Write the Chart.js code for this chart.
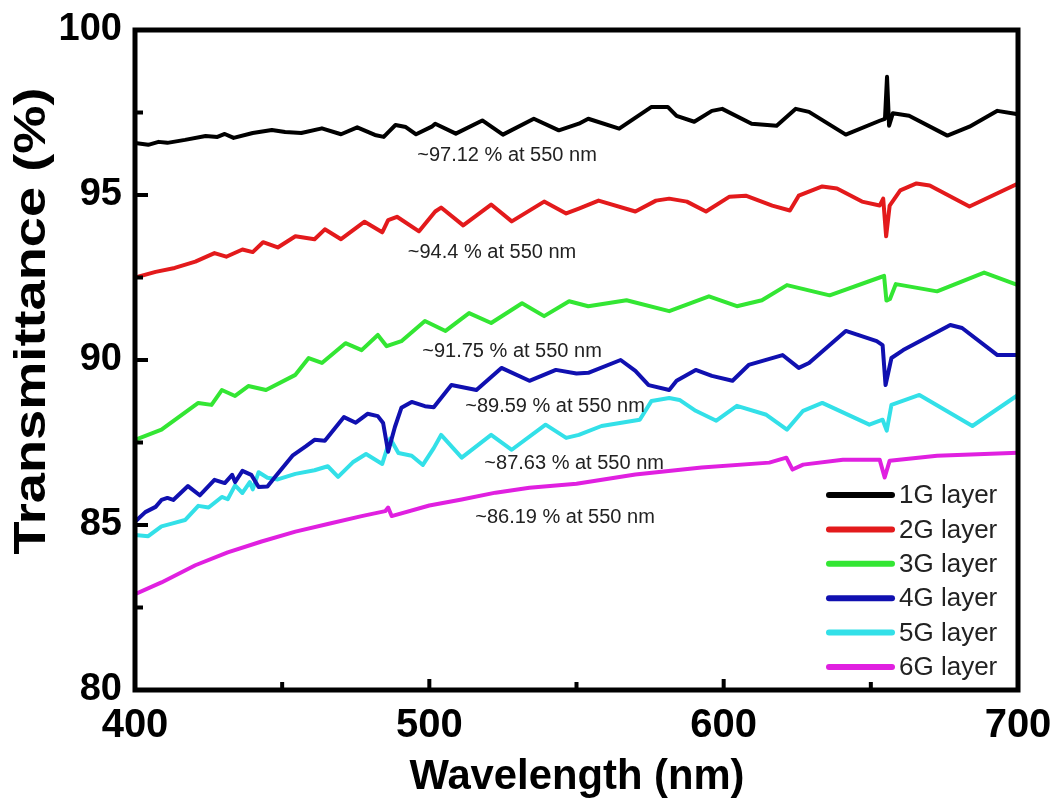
<!DOCTYPE html>
<html>
<head>
<meta charset="utf-8">
<script src="https://cdn.jsdelivr.net/npm/chart.js@4.4.0/dist/chart.umd.min.js"></script>
<style>
  html, body { margin: 0; padding: 0; background: #fff; }
  #wrap { width: 1055px; height: 805px; }
</style>
</head>
<body>
<div id="wrap"><canvas id="chart" width="1055" height="805"></canvas></div>
<script>
// Transmittance spectra (wavelength nm, transmittance %)
const layer1Wl = [400, 404.5, 408, 411, 417, 424, 428, 430.5, 433.5, 440, 446.5, 451, 456.5, 463.5, 470, 475.5, 481.5, 484.5, 486, 488.5, 492, 495.5, 501, 502, 509, 518, 525, 535.5, 544, 550.8, 554, 564.5, 575.5, 581, 584, 590, 596, 599.5, 609.5, 618, 624.5, 629, 641.5, 653, 654.8, 655.5, 656.2, 657.5, 663, 676, 683.5, 693, 699, 700];
const layer1T = [96.58, 96.52, 96.61, 96.58, 96.67, 96.79, 96.76, 96.85, 96.73, 96.88, 96.97, 96.91, 96.88, 97.02, 96.84, 97.05, 96.82, 96.76, 96.9, 97.12, 97.06, 96.84, 97.08, 97.16, 96.86, 97.26, 96.83, 97.31, 96.96, 97.16, 97.31, 97.01, 97.67, 97.67, 97.4, 97.22, 97.55, 97.61, 97.16, 97.1, 97.61, 97.52, 96.83, 97.25, 97.31, 98.58, 97.1, 97.48, 97.4, 96.8, 97.07, 97.55, 97.46, 97.44];

const layer2Wl = [400, 407, 413.5, 420.5, 427, 431, 436.5, 440, 443.5, 448.5, 454.5, 461, 464.5, 470, 478, 484, 486, 489, 496.5, 502, 504, 511.5, 521, 528, 539, 546.5, 550.8, 557.5, 570, 577, 581.5, 587.5, 594, 602, 607.5, 616.5, 622.5, 625.5, 633.5, 638.5, 647, 653, 654.2, 655.2, 656.4, 660, 665.5, 670, 683.5, 700];
const layer2T = [92.5, 92.67, 92.79, 92.98, 93.24, 93.13, 93.35, 93.27, 93.57, 93.41, 93.75, 93.66, 93.96, 93.66, 94.19, 93.87, 94.24, 94.34, 93.9, 94.5, 94.62, 94.08, 94.71, 94.2, 94.8, 94.44, 94.59, 94.83, 94.5, 94.83, 94.89, 94.8, 94.5, 94.95, 94.98, 94.68, 94.53, 94.98, 95.26, 95.2, 94.8, 94.68, 94.89, 93.75, 94.68, 95.14, 95.35, 95.29, 94.65, 95.35];

const layer3Wl = [400, 409, 421.5, 426, 429.5, 434, 438.5, 444.5, 454.5, 459, 463.5, 471.5, 477, 482.5, 485.5, 490.5, 498.5, 505.5, 513.5, 521, 531.5, 539, 547.5, 554, 567, 581.5, 595, 604.5, 613, 621.5, 636, 653, 654.5, 655.3, 656.5, 658.5, 672.5, 688.5, 700];
const layer3T = [87.58, 87.89, 88.7, 88.64, 89.09, 88.91, 89.21, 89.09, 89.55, 90.06, 89.91, 90.51, 90.3, 90.76, 90.42, 90.57, 91.18, 90.88, 91.42, 91.12, 91.72, 91.33, 91.78, 91.63, 91.81, 91.48, 91.93, 91.63, 91.81, 92.27, 91.96, 92.5, 92.55, 91.8, 91.85, 92.3, 92.08, 92.65, 92.27];

const layer4Wl = [400, 403.5, 407, 409, 411, 413, 418, 422, 427, 430.5, 433, 434, 436.5, 439.5, 442, 445, 447.5, 453.5, 458, 461, 464.5, 471, 475, 479, 482.5, 484.3, 486, 488.3, 490.5, 494, 498.5, 501.5, 507.5, 516, 524.5, 534, 543, 550, 554, 565, 570, 574.5, 581.5, 584, 590.5, 596, 603, 608.5, 620, 625.5, 629, 641.5, 652, 654, 655, 657, 661, 677, 681, 693, 700];
const layer4T = [85.1, 85.39, 85.55, 85.76, 85.82, 85.76, 86.18, 85.9, 86.37, 86.27, 86.52, 86.3, 86.64, 86.52, 86.15, 86.17, 86.45, 87.1, 87.38, 87.58, 87.55, 88.27, 88.1, 88.37, 88.3, 88.09, 87.22, 87.97, 88.55, 88.73, 88.6, 88.57, 89.24, 89.09, 89.76, 89.37, 89.7, 89.59, 89.61, 90.0, 89.67, 89.24, 89.09, 89.37, 89.7, 89.52, 89.37, 89.85, 90.15, 89.76, 89.91, 90.88, 90.57, 90.45, 89.24, 90.06, 90.3, 91.06, 90.97, 90.15, 90.15];

const layer5Wl = [400, 404.5, 409, 412.5, 417, 421.5, 425, 429.5, 431.5, 434, 436.5, 439, 440, 442, 445, 448.5, 454.5, 461, 465.5, 469, 474, 478.5, 484, 486.7, 489.5, 494, 497.8, 501.5, 504, 511, 521, 528, 539.5, 546.5, 550.8, 558.5, 571.5, 575.5, 581.5, 585, 590.5, 597.5, 604.5, 614.5, 621.5, 627, 633.5, 649.5, 654, 655.4, 657, 666.5, 684.5, 700];
const layer5T = [84.7, 84.66, 84.96, 85.04, 85.15, 85.58, 85.53, 85.85, 85.78, 86.2, 85.97, 86.3, 86.08, 86.6, 86.43, 86.38, 86.55, 86.66, 86.78, 86.46, 86.9, 87.15, 86.85, 87.62, 87.18, 87.1, 86.82, 87.33, 87.73, 87.04, 87.73, 87.28, 88.04, 87.64, 87.73, 88.0, 88.19, 88.76, 88.85, 88.79, 88.46, 88.16, 88.61, 88.34, 87.89, 88.46, 88.7, 88.04, 88.19, 87.86, 88.64, 88.94, 88.0, 88.94];

const layer6Wl = [400, 409, 420.5, 431.5, 443, 454.5, 465.5, 477, 485, 486, 487.2, 500, 511, 522.5, 534, 550, 570, 592.5, 615.5, 621.3, 623.4, 627, 640.5, 653, 654.7, 656.4, 672.5, 700];
const layer6T = [82.9, 83.26, 83.78, 84.17, 84.5, 84.8, 85.03, 85.27, 85.42, 85.53, 85.27, 85.59, 85.77, 85.98, 86.13, 86.25, 86.53, 86.74, 86.89, 87.04, 86.68, 86.83, 86.98, 86.98, 86.44, 86.95, 87.1, 87.19];

const layerNames = ['1G layer', '2G layer', '3G layer', '4G layer', '5G layer', '6G layer'];
const layerColors = ['#000000', '#e31a1c', '#33e633', '#1010b0', '#33e0e8', '#e020e0'];

// "~xx % at 550 nm" notes: [wavelength, transmittance, text]
const noteWl = [526.4, 521.3, 528.1, 542.7, 549.2, 546.1];
const noteT = [96.21, 93.27, 90.27, 88.58, 86.85, 85.24];
const noteText = ['~97.12 % at 550 nm', '~94.4 % at 550 nm', '~91.75 % at 550 nm', '~89.59 % at 550 nm', '~87.63 % at 550 nm', '~86.19 % at 550 nm'];

const wlSeries = [layer1Wl, layer2Wl, layer3Wl, layer4Wl, layer5Wl, layer6Wl];
const tSeries = [layer1T, layer2T, layer3T, layer4T, layer5T, layer6T];

const datasets = layerNames.map((name, i) => ({
    label: name,
    data: wlSeries[i].map((x, j) => ({ x: x, y: tSeries[i][j] })),
    borderColor: layerColors[i],
    borderWidth: 4,
    pointRadius: 0,
    tension: 0,
    borderJoinStyle: 'round',
    borderCapStyle: 'round'
}));

// frame, inward ticks, titles, notes and legend
const decorPlugin = {
    id: 'decor',
    afterDraw(chart) {
        const ctx = chart.ctx;
        const area = chart.chartArea;
        const xs = chart.scales.x;
        const ys = chart.scales.y;
        ctx.save();

        // inward ticks
        ctx.strokeStyle = '#000';
        ctx.lineWidth = 4;
        ctx.beginPath();
        for (let v = 80; v <= 100; v += 2.5) {
            const py = ys.getPixelForValue(v);
            const len = (v % 5 === 0) ? 13 : 8;
            ctx.moveTo(area.left, py);
            ctx.lineTo(area.left + len, py);
        }
        for (let v = 400; v <= 700; v += 50) {
            const px = xs.getPixelForValue(v);
            const len = (v % 100 === 0) ? 11 : 8;
            ctx.moveTo(px, area.bottom);
            ctx.lineTo(px, area.bottom - len);
        }
        ctx.stroke();

        // frame
        ctx.lineWidth = 5;
        ctx.strokeRect(area.left, area.top, area.right - area.left, area.bottom - area.top);

        // notes
        ctx.fillStyle = '#222';
        ctx.font = '20px "Liberation Sans", Arial, sans-serif';
        ctx.textAlign = 'center';
        ctx.textBaseline = 'middle';
        noteText.forEach((t, i) => {
            ctx.fillText(t, xs.getPixelForValue(noteWl[i]), ys.getPixelForValue(noteT[i]));
        });

        // legend
        ctx.font = '26px "Liberation Sans", Arial, sans-serif';
        ctx.textAlign = 'left';
        layerNames.forEach((name, i) => {
            const ly = 495 + i * 34.4;
            ctx.strokeStyle = layerColors[i];
            ctx.lineWidth = 6;
            ctx.lineCap = 'round';
            ctx.beginPath();
            ctx.moveTo(829, ly);
            ctx.lineTo(892, ly);
            ctx.stroke();
            ctx.fillStyle = '#222';
            ctx.fillText(name, 899, ly + 1);
        });

        // axis titles
        ctx.fillStyle = '#000';
        ctx.font = 'bold 44px "Liberation Sans", Arial, sans-serif';
        ctx.textAlign = 'center';
        ctx.textBaseline = 'middle';
        const yTitle = 'Transmittance (%)';
        const yw = ctx.measureText(yTitle).width;
        ctx.save();
        ctx.translate(33, 321);
        ctx.rotate(-Math.PI / 2);
        ctx.scale(467 / yw, 1);
        ctx.fillText(yTitle, 0, 0);
        ctx.restore();

        const xTitle = 'Wavelength (nm)';
        ctx.font = 'bold 42px "Liberation Sans", Arial, sans-serif';
        ctx.textBaseline = 'alphabetic';
        const xw = ctx.measureText(xTitle).width;
        ctx.save();
        ctx.translate(577, 789);
        ctx.scale(335 / xw, 1);
        ctx.fillText(xTitle, 0, 0);
        ctx.restore();

        ctx.restore();
    }
};

new Chart(document.getElementById('chart').getContext('2d'), {
    type: 'line',
    data: { datasets: datasets },
    plugins: [decorPlugin],
    options: {
        responsive: false,
        animation: false,
        layout: { padding: { left: 0, right: 37, top: 30, bottom: 0 } },
        plugins: {
            legend: { display: false },
            tooltip: { enabled: false }
        },
        scales: {
            x: {
                type: 'linear',
                min: 400,
                max: 700,
                grid: { display: false, drawTicks: false },
                border: { display: false },
                ticks: {
                    stepSize: 100,
                    padding: 12,
                    color: '#000',
                    font: { family: '"Liberation Sans", Arial, sans-serif', size: 40, weight: 'bold' }
                },
                afterFit(scale) {
                    scale.height = 115;
                    scale.paddingLeft = 0;
                    scale.paddingRight = 0;
                }
            },
            y: {
                min: 80,
                max: 100,
                grid: { display: false, drawTicks: false },
                border: { display: false },
                ticks: {
                    stepSize: 5,
                    padding: 13,
                    color: '#000',
                    font: { family: '"Liberation Sans", Arial, sans-serif', size: 38, weight: 'bold' }
                },
                afterFit(scale) {
                    scale.width = 135;
                    scale.paddingTop = 0;
                    scale.paddingBottom = 0;
                }
            }
        }
    }
});
</script>
</body>
</html>
